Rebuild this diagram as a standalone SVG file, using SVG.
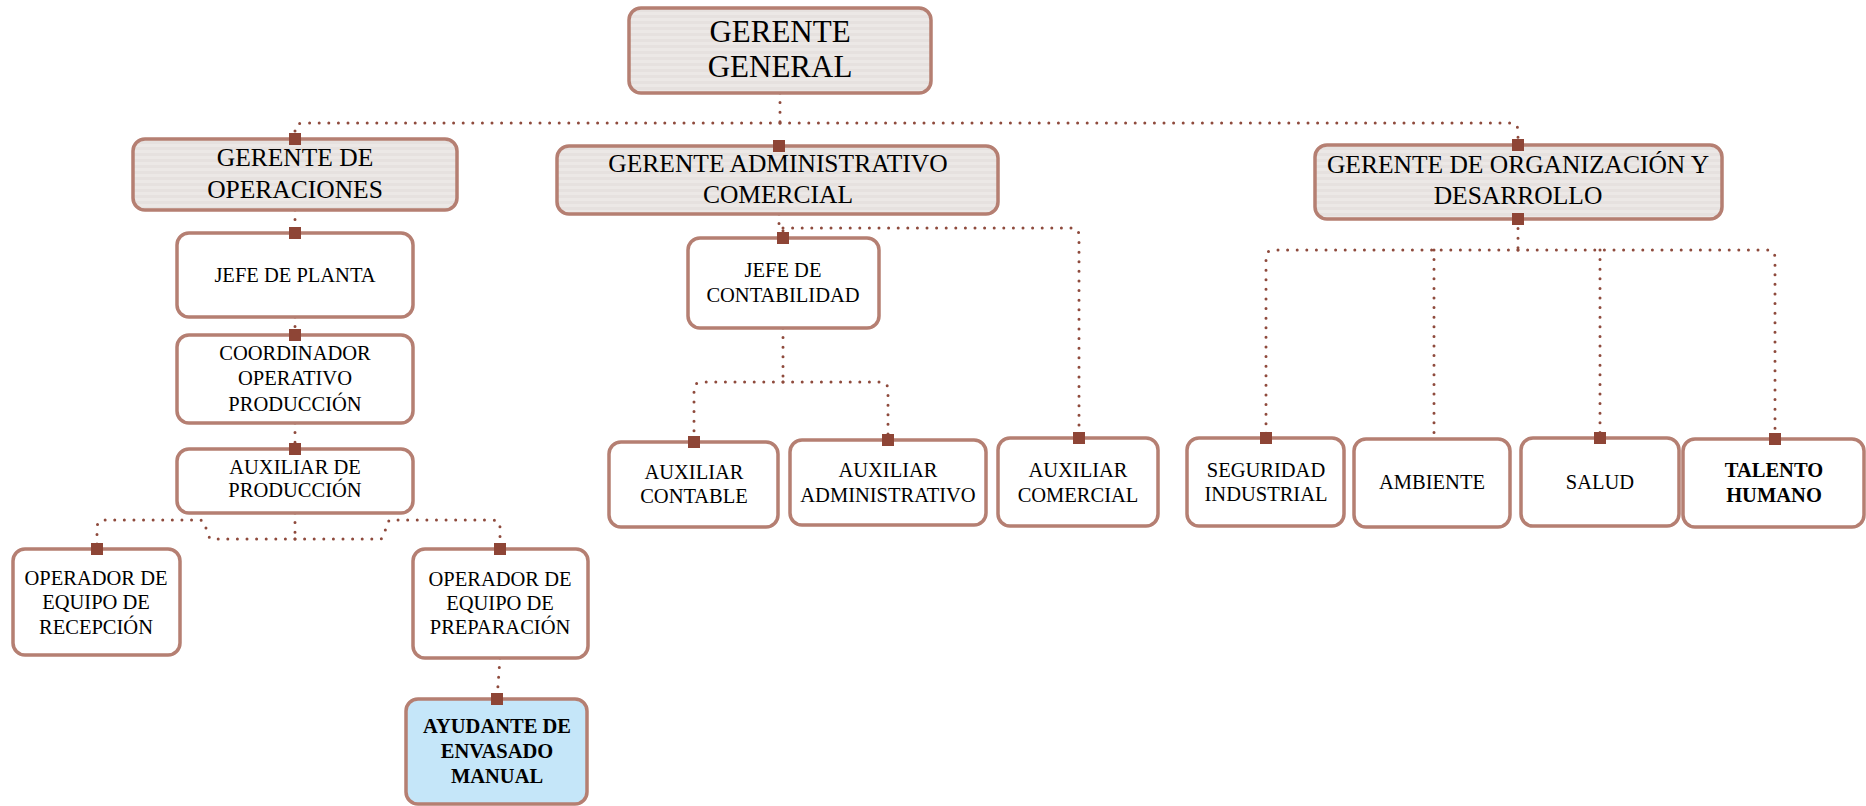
<svg xmlns="http://www.w3.org/2000/svg" width="1866" height="806" viewBox="0 0 1866 806">
<defs>
<pattern id="stripes" patternUnits="userSpaceOnUse" width="8" height="6">
<rect width="8" height="6" fill="#ECE8E6"/>
<rect y="3" width="8" height="3" fill="#E6E1DF"/>
</pattern>
<linearGradient id="shade" x1="0" y1="0" x2="0" y2="1">
<stop offset="0" stop-color="#ffffff" stop-opacity="0.25"/>
<stop offset="1" stop-color="#ffffff" stop-opacity="0"/>
</linearGradient>
</defs>
<style>
.box{fill:#FFFFFF;stroke:#B57F72;stroke-width:3.5}
.mgr{fill:url(#stripes);stroke:#B57F72;stroke-width:3.5}
.hl{fill:#C5E6F9;stroke:#B57F72;stroke-width:3.5}
.t{font-family:"Liberation Serif","Times New Roman",serif;fill:#000;text-anchor:middle;font-size:20.5px}
.tb{font-weight:bold}
.tm{font-size:25.5px}
.tg{font-size:31px}
.c{fill:none;stroke:#8E4A3C;stroke-width:3;stroke-linecap:round;stroke-dasharray:0 9.6}
.sq{fill:#8E4536}
</style>
<rect width="1866" height="806" fill="#FFFFFF"/>

<g id="connectors">
<path class="c" d="M780,93 V123"/>
<path class="c" d="M780,123 H303 Q295,123 295,131 V139"/>
<path class="c" d="M780,123 H1510 Q1518,123 1518,131 V145"/>
<path class="c" d="M295,210 V233"/>
<path class="c" d="M295,317 V335"/>
<path class="c" d="M295,423 V449"/>
<path class="c" d="M295,513 V539"/>
<path class="c" d="M295,539 H212 C206,539 207,520 200,520 H105 Q97,520 97,528 V549"/>
<path class="c" d="M295,539 H380 C386,539 385,520 391,520 H492 Q500,520 500,528 V549"/>
<path class="c" d="M500,658 L497,699"/>
<path class="c" d="M779,214 V225 Q779,228 783,228 V238"/>
<path class="c" d="M783,228 H1071 Q1079,228 1079,236 V438"/>
<path class="c" d="M783,328 V382"/>
<path class="c" d="M783,382 H702 Q694,382 694,390 V442"/>
<path class="c" d="M783,382 H880 Q888,382 888,390 V440"/>
<path class="c" d="M1518,219 V250"/>
<path class="c" d="M1518,250 H1274 Q1266,250 1266,258 V438"/>
<path class="c" d="M1518,250 H1767 Q1775,250 1775,258 V439"/>
<path class="c" d="M1434,250 V439"/>
<path class="c" d="M1600,250 V438"/>
</g>

<g id="gerente-general">
<rect class="mgr" x="629" y="8" width="302" height="85" rx="12"/>
<text class="t tg" x="780" y="42">GERENTE</text>
<text class="t tg" x="780" y="77">GENERAL</text>
</g>

<g id="gerente-operaciones">
<rect class="mgr" x="133" y="139" width="324" height="71" rx="12"/>
<text class="t tm" x="295" y="166">GERENTE DE</text>
<text class="t tm" x="295" y="198">OPERACIONES</text>
</g>

<g id="gerente-administrativo">
<rect class="mgr" x="557" y="146" width="441" height="68" rx="12"/>
<text class="t tm" x="778" y="172">GERENTE ADMINISTRATIVO</text>
<text class="t tm" x="778" y="203">COMERCIAL</text>
</g>

<g id="gerente-organizacion">
<rect class="mgr" x="1315" y="145" width="407" height="74" rx="12"/>
<text class="t tm" x="1518" y="173">GERENTE DE ORGANIZACIÓN Y</text>
<text class="t tm" x="1518" y="204">DESARROLLO</text>
</g>

<g id="jefe-planta">
<rect class="box" x="177" y="233" width="236" height="84" rx="12"/>
<text class="t" x="295" y="282">JEFE DE PLANTA</text>
</g>

<g id="coordinador">
<rect class="box" x="177" y="335" width="236" height="88" rx="12"/>
<text class="t" x="295" y="360">COORDINADOR</text>
<text class="t" x="295" y="385">OPERATIVO</text>
<text class="t" x="295" y="411">PRODUCCIÓN</text>
</g>

<g id="auxiliar-produccion">
<rect class="box" x="177" y="449" width="236" height="64" rx="12"/>
<text class="t" x="295" y="474">AUXILIAR DE</text>
<text class="t" x="295" y="497">PRODUCCIÓN</text>
</g>

<g id="operador-recepcion">
<rect class="box" x="13" y="549" width="167" height="106" rx="12"/>
<text class="t" x="96" y="585">OPERADOR DE</text>
<text class="t" x="96" y="609">EQUIPO DE</text>
<text class="t" x="96" y="634">RECEPCIÓN</text>
</g>

<g id="operador-preparacion">
<rect class="box" x="413" y="549" width="175" height="109" rx="12"/>
<text class="t" x="500" y="586">OPERADOR DE</text>
<text class="t" x="500" y="610">EQUIPO DE</text>
<text class="t" x="500" y="634">PREPARACIÓN</text>
</g>

<g id="ayudante-envasado">
<rect class="hl" x="406" y="699" width="181" height="105" rx="12"/>
<text class="t tb" x="497" y="733">AYUDANTE DE</text>
<text class="t tb" x="497" y="758">ENVASADO</text>
<text class="t tb" x="497" y="783">MANUAL</text>
</g>

<g id="jefe-contabilidad">
<rect class="box" x="688" y="238" width="191" height="90" rx="12"/>
<text class="t" x="783" y="277">JEFE DE</text>
<text class="t" x="783" y="302">CONTABILIDAD</text>
</g>

<g id="auxiliar-contable">
<rect class="box" x="609" y="442" width="169" height="85" rx="12"/>
<text class="t" x="694" y="479">AUXILIAR</text>
<text class="t" x="694" y="503">CONTABLE</text>
</g>

<g id="auxiliar-administrativo">
<rect class="box" x="790" y="440" width="196" height="85" rx="12"/>
<text class="t" x="888" y="477">AUXILIAR</text>
<text class="t" x="888" y="502">ADMINISTRATIVO</text>
</g>

<g id="auxiliar-comercial">
<rect class="box" x="998" y="438" width="160" height="88" rx="12"/>
<text class="t" x="1078" y="477">AUXILIAR</text>
<text class="t" x="1078" y="502">COMERCIAL</text>
</g>

<g id="seguridad-industrial">
<rect class="box" x="1187" y="438" width="157" height="88" rx="12"/>
<text class="t" x="1266" y="477">SEGURIDAD</text>
<text class="t" x="1266" y="501">INDUSTRIAL</text>
</g>

<g id="ambiente">
<rect class="box" x="1354" y="439" width="156" height="88" rx="12"/>
<text class="t" x="1432" y="489">AMBIENTE</text>
</g>

<g id="salud">
<rect class="box" x="1521" y="438" width="158" height="88" rx="12"/>
<text class="t" x="1600" y="489">SALUD</text>
</g>

<g id="talento-humano">
<rect class="box" x="1683" y="439" width="181" height="88" rx="12"/>
<text class="t tb" x="1774" y="477" font-size="19.5">TALENTO</text>
<text class="t tb" x="1774" y="502" font-size="19.5">HUMANO</text>
</g>

<g id="markers">
<rect class="sq" x="289" y="133" width="12" height="12"/>
<rect class="sq" x="773" y="140" width="12" height="12"/>
<rect class="sq" x="1512" y="139" width="12" height="12"/>
<rect class="sq" x="1512" y="213" width="12" height="12"/>
<rect class="sq" x="289" y="227" width="12" height="12"/>
<rect class="sq" x="289" y="329" width="12" height="12"/>
<rect class="sq" x="289" y="443" width="12" height="12"/>
<rect class="sq" x="91" y="543" width="12" height="12"/>
<rect class="sq" x="494" y="543" width="12" height="12"/>
<rect class="sq" x="491" y="693" width="12" height="12"/>
<rect class="sq" x="777" y="232" width="12" height="12"/>
<rect class="sq" x="688" y="436" width="12" height="12"/>
<rect class="sq" x="882" y="434" width="12" height="12"/>
<rect class="sq" x="1073" y="432" width="12" height="12"/>
<rect class="sq" x="1260" y="432" width="12" height="12"/>
<rect class="sq" x="1594" y="432" width="12" height="12"/>
<rect class="sq" x="1769" y="433" width="12" height="12"/>
</g>
</svg>
